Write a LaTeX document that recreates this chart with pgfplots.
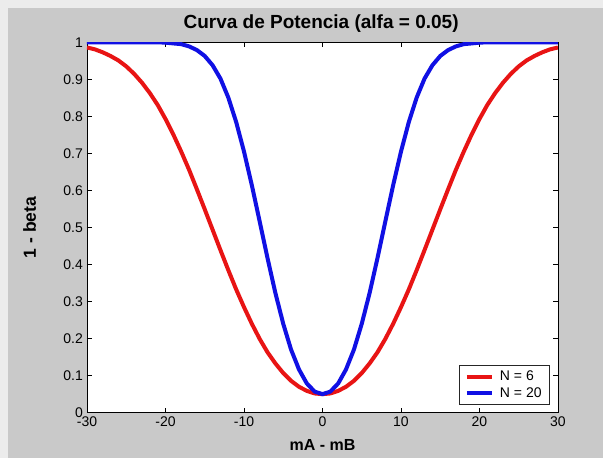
\documentclass[border=0pt]{standalone}
\usepackage{fontspec}
\setmainfont{Liberation Sans}
\usepackage{pgfplots}
\pgfplotsset{compat=1.18}

\definecolor{pagebg}{RGB}{236,236,236}
\definecolor{figgray}{RGB}{201,201,201}
\definecolor{mred}{RGB}{232,20,20}
\definecolor{mblue}{RGB}{16,16,228}

\begin{document}
\begin{tikzpicture}
\fill[pagebg] (0pt,0pt) rectangle (603pt,458pt);
\fill[figgray] (8pt,0pt) rectangle (603pt,450pt);
\begin{axis}[
  at={(87pt,45.3pt)}, anchor=south west,
  scale only axis, width=471pt, height=370.4pt,
  xmin=-30, xmax=30, ymin=0, ymax=1,
  xtick={-30,-20,...,30},
  ytick={0,0.1,...,1},
  tick pos=both, tick align=inside,
  major tick length=5pt,
  axis line style={black, line width=0.8pt},
  every tick/.style={black, line width=0.8pt},
  axis background/.style={fill=white},
  /pgf/number format/assume math mode=true,
  tick label style={font=\fontsize{14}{16}\selectfont},
  yticklabel style={/pgf/number format/fixed, /pgf/number format/precision=1,
    anchor=east, inner sep=0pt, xshift=-4pt},
  xticklabel style={anchor=north, inner sep=0pt, yshift=-3.5pt},
  title={Curva de Potencia (alfa = 0.05)},
  title style={at={(axis description cs:0.497,1.022)}, anchor=base,
    font=\fontsize{19}{22}\selectfont\bfseries},
  xlabel={mA - mB},
  xlabel style={at={(axis description cs:0.5,-0.1026)}, anchor=base,
    font=\fontsize{16}{19}\selectfont\bfseries},
  ylabel={1 - beta},
  ylabel style={at={(axis description cs:-0.1083,0.5)}, anchor=base,
    font=\fontsize{17.5}{20}\selectfont\bfseries},
  legend cell align=left,
  legend image code/.code={\draw[#1] (0pt,0pt) -- (25pt,0pt);},
  legend style={at={(axis description cs:0.983,0.021)}, anchor=south east,
    draw=black!85, line width=0.8pt, fill=white,
    font=\fontsize{14}{16}\selectfont,
    inner xsep=6pt, inner ysep=3.5pt, row sep=1.5pt,
    /tikz/every odd column/.append style={column sep=4pt}},
]
\addplot[mred, line width=4pt, line join=round] coordinates {
(-30,0.986)(-29,0.981)(-28,0.973)(-27,0.963)(-26,0.951)(-25,0.935)
(-24,0.915)(-23,0.891)(-22,0.863)(-21,0.831)(-20,0.793)(-19,0.751)
(-18,0.705)(-17,0.656)(-16,0.603)(-15,0.549)(-14,0.494)(-13,0.439)
(-12,0.385)(-11,0.333)(-10,0.285)(-9,0.240)(-8,0.199)(-7,0.163)
(-6,0.133)(-5,0.107)(-4,0.086)(-3,0.070)(-2,0.059)(-1,0.052)(0,0.050)
(1,0.052)(2,0.059)(3,0.070)(4,0.086)(5,0.107)(6,0.133)(7,0.163)
(8,0.199)(9,0.240)(10,0.285)(11,0.333)(12,0.385)(13,0.439)(14,0.494)
(15,0.549)(16,0.603)(17,0.656)(18,0.705)(19,0.751)(20,0.793)(21,0.831)
(22,0.863)(23,0.891)(24,0.915)(25,0.935)(26,0.951)(27,0.963)(28,0.973)
(29,0.981)(30,0.986)
};
\addlegendentry{N = 6}
\addplot[mblue, line width=4pt, line join=round] coordinates {
(-30,1.000)(-25,1.000)(-22,1.000)(-21,1.000)(-20,0.999)(-19,0.997)
(-18,0.995)(-17,0.989)(-16,0.979)(-15,0.963)(-14,0.938)(-13,0.902)
(-12,0.851)(-11,0.785)(-10,0.705)(-9,0.614)(-8,0.516)(-7,0.417)
(-6,0.323)(-5,0.240)(-4,0.170)(-3,0.117)(-2,0.079)(-1,0.057)(0,0.050)
(1,0.057)(2,0.079)(3,0.117)(4,0.170)(5,0.240)(6,0.323)(7,0.417)
(8,0.516)(9,0.614)(10,0.705)(11,0.785)(12,0.851)(13,0.902)(14,0.938)
(15,0.963)(16,0.979)(17,0.989)(18,0.995)(19,0.997)(20,0.999)(21,1.000)
(22,1.000)(25,1.000)(30,1.000)
};
\addlegendentry{N = 20}
\end{axis}
\end{tikzpicture}
\end{document}
